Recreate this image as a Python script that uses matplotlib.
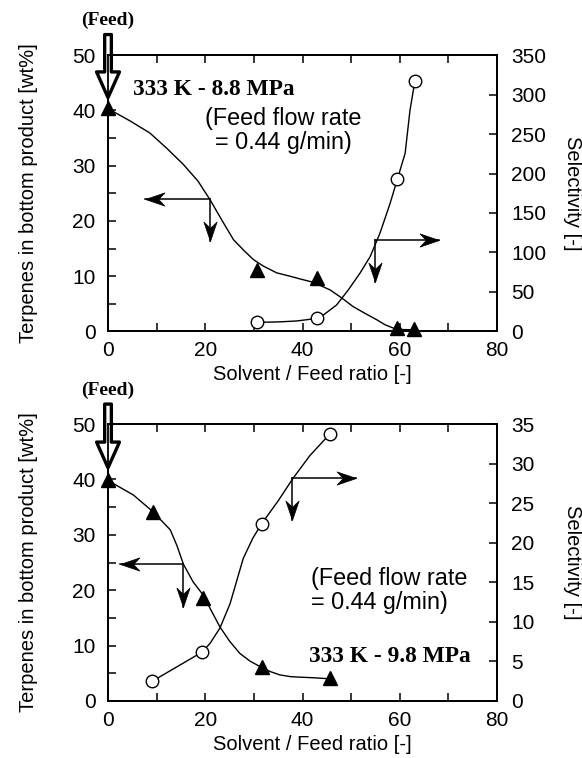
import matplotlib
matplotlib.use("Agg")
import matplotlib.pyplot as plt
from matplotlib.markers import MarkerStyle
from matplotlib.path import Path
from matplotlib.transforms import Affine2D

plt.rcParams['font.family'] = ['Liberation Sans', 'DejaVu Sans']

# ---------------- data: top panel (333 K - 8.8 MPa) ----------------
top_terp_x = [0.0, 30.6, 42.9, 59.4, 63.0]
top_terp_y = [40.5, 11.1, 9.7, 0.6, 0.4]
top_sel_x = [30.6, 42.9, 59.5, 63.1]
top_sel_y = [12.4, 16.7, 192.7, 317.0]
top_terp_curve_x = [0.4, 4.5, 8.6, 12.0, 15.5, 18.5, 21.0, 23.5, 25.8, 28.0, 29.9, 32.0,
                    34.7, 37.4, 39.5, 42.2, 45.7, 48.0, 50.4, 53.0, 55.3, 57.0, 58.7, 60.5, 62.8]
top_terp_curve_y = [40.1, 38.1, 35.9, 33.2, 30.2, 27.2, 23.8, 20.0, 16.6, 14.6, 13.0, 11.8,
                    10.6, 10.0, 9.5, 8.9, 7.5, 6.1, 4.5, 3.2, 2.1, 1.2, 0.6, 0.35, 0.3]
top_sel_curve_x = [30.6, 33.0, 35.4, 38.8, 41.0, 42.9, 44.3, 47.0, 49.4, 51.8, 53.9, 55.9,
                   58.0, 59.5, 61.1, 62.1, 63.1]
top_sel_curve_y = [12.0, 11.8, 12.2, 13.3, 15.0, 16.7, 20.9, 33.5, 52.5, 73.7, 94.7, 124.0,
                   162.0, 192.7, 225.6, 280.0, 317.0]

# ---------------- data: bottom panel (333 K - 9.8 MPa) ----------------
bot_terp_x = [0.0, 9.2, 19.5, 31.6, 45.7]
bot_terp_y = [39.9, 34.2, 18.6, 6.2, 4.1]
bot_sel_x = [9.1, 19.4, 31.6, 45.7]
bot_sel_y = [2.5, 6.2, 22.4, 33.8]
bot_terp_curve_x = [0.4, 5.2, 9.2, 12.8, 14.2, 15.5, 17.5, 19.6, 21.3, 23.0, 25.0, 27.1,
                    29.2, 31.3, 33.4, 35.4, 37.5, 39.5, 42.2, 45.7]
bot_terp_curve_y = [39.6, 37.2, 34.2, 30.9, 28.0, 24.7, 21.5, 19.1, 16.2, 13.4, 10.8, 8.6,
                    7.2, 6.2, 5.3, 4.7, 4.4, 4.3, 4.2, 4.0]
bot_sel_curve_x = [9.1, 19.4, 21.0, 23.0, 25.1, 27.8, 29.8, 31.6, 35.0, 38.0, 41.5, 45.7]
bot_sel_curve_y = [2.5, 6.2, 7.3, 9.2, 12.3, 18.0, 20.6, 22.4, 25.3, 28.1, 31.0, 33.8]

x_ticks = [0, 20, 40, 60, 80]
left_ticks = [0, 10, 20, 30, 40, 50]
top_right_ticks = [0, 50, 100, 150, 200, 250, 300, 350]
bot_right_ticks = [0, 5, 10, 15, 20, 25, 30, 35]

TICK_FS = 15
LABEL_FS = 14.5
ANNOT_FS = 16.8

fig = plt.figure(figsize=(5.82, 7.58), dpi=100)

# stealth-style arrow head marker (tip at origin, pointing +x)
head_path = Path([(0, 0), (-1, 0.34), (-0.68, 0), (-1, -0.34), (0, 0)],
                 [Path.MOVETO, Path.LINETO, Path.LINETO, Path.LINETO, Path.CLOSEPOLY])


def head_marker(angle):
    return MarkerStyle(head_path, transform=Affine2D().rotate_deg(angle))


def elbow_arrows(ax, corner, horiz_end, vert_end):
    cx, cy = corner
    ax.plot([cx, horiz_end], [cy, cy], color='black', lw=1.1, zorder=4)
    ax.plot([cx, cx], [cy, vert_end], color='black', lw=1.1, zorder=4)
    ang = 0 if horiz_end > cx else 180
    ax.plot([horiz_end], [cy], marker=head_marker(ang), ms=28, color='black',
            mec='black', mew=0.5, zorder=4, clip_on=False)
    ax.plot([cx], [vert_end], marker=head_marker(-90), ms=28, color='black',
            mec='black', mew=0.5, zorder=4, clip_on=False)


def feed_arrow(ax, y_top, y_tip):
    ax.annotate('', xy=(0, y_tip), xytext=(0, y_top), annotation_clip=False,
                arrowprops=dict(arrowstyle='simple,head_length=1.85,head_width=1.65,tail_width=0.48',
                                fc='white', ec='black', lw=2.4, mutation_scale=10,
                                shrinkA=0, shrinkB=0), zorder=6)


def setup(ax, ax2, right_ticks, right_max):
    ax.set_xlim(0, 80)
    ax.set_ylim(0, 50)
    ax2.set_ylim(0, right_max)
    ax.set_xticks(x_ticks)
    ax.set_xticks([10, 30, 50, 70], minor=True)
    ax.set_yticks(left_ticks)
    ax.set_yticks([5, 15, 25, 35, 45], minor=True)
    ax2.set_yticks(right_ticks)
    ax.tick_params(axis='x', which='both', direction='in', top=True, bottom=True,
                   length=6, width=1.1, labelsize=TICK_FS, pad=7)
    ax.tick_params(axis='y', which='both', direction='in', left=True, right=False,
                   length=6, width=1.1, labelsize=TICK_FS, pad=9)
    ax2.tick_params(axis='y', which='both', direction='in', right=True, left=False,
                    length=6, width=1.1, labelsize=TICK_FS, pad=10)
    for a in (ax, ax2):
        for s in a.spines.values():
            s.set_linewidth(1.3)
    ax.set_xlabel('Solvent / Feed ratio [-]', fontsize=LABEL_FS)
    ax.xaxis.label.set_va('center')
    ax.xaxis.set_label_coords(0.524, -0.157)
    ax.set_ylabel('Terpenes in bottom product [wt%]', fontsize=LABEL_FS)
    ax.yaxis.label.set_va('center')
    ax.yaxis.set_label_coords(-0.205, 0.5)
    ax2.set_ylabel('Selectivity [-]', fontsize=LABEL_FS, rotation=-90)
    ax2.yaxis.label.set_va('center')
    ax2.yaxis.set_label_coords(1.193, 0.5)


# ---------------- top panel ----------------
ax1 = fig.add_axes([0.1856, 0.5627, 0.6684, 0.3647])
ax1b = ax1.twinx()
setup(ax1, ax1b, top_right_ticks, 350)
ax1.plot(top_terp_curve_x, top_terp_curve_y, color='black', lw=1.0, zorder=3)
ax1.plot(top_terp_x, top_terp_y, linestyle='none', marker='^', ms=10, color='black',
         zorder=5, clip_on=False)
ax1b.plot(top_sel_curve_x, top_sel_curve_y, color='black', lw=1.0, zorder=3)
ax1b.plot(top_sel_x, top_sel_y, linestyle='none', marker='o', ms=9, mfc='white',
          mec='black', mew=1.0, zorder=5, clip_on=False)
elbow_arrows(ax1, (21.0, 24.0), 7.6, 16.3)
elbow_arrows(ax1, (54.9, 16.6), 68.1, 9.0)
feed_arrow(ax1, 53.7, 42.3)
ax1.text(0, 56.3, '(Feed)', ha='center', va='center', fontsize=14,
         family='Liberation Serif', weight='bold', clip_on=False)
ax1.text(5.1, 43.75, '333 K - 8.8 MPa', ha='left', va='center', fontsize=ANNOT_FS,
         family='Liberation Serif', weight='bold')
ax1.text(36.0, 36.4, '(Feed flow rate\n= 0.44 g/min)', ha='center', va='center',
         multialignment='center', linespacing=1.05, fontsize=ANNOT_FS)

# ---------------- bottom panel ----------------
ax2 = fig.add_axes([0.1856, 0.0752, 0.6684, 0.3654])
ax2b = ax2.twinx()
setup(ax2, ax2b, bot_right_ticks, 35)
ax2.plot(bot_terp_curve_x, bot_terp_curve_y, color='black', lw=1.0, zorder=3)
ax2.plot(bot_terp_x, bot_terp_y, linestyle='none', marker='^', ms=10, color='black',
         zorder=5, clip_on=False)
ax2b.plot(bot_sel_curve_x, bot_sel_curve_y, color='black', lw=1.0, zorder=3)
ax2b.plot(bot_sel_x, bot_sel_y, linestyle='none', marker='o', ms=9, mfc='white',
          mec='black', mew=1.0, zorder=5, clip_on=False)
elbow_arrows(ax2, (15.5, 24.7), 2.5, 17.0)
elbow_arrows(ax2, (37.9, 40.2), 51.0, 32.7)
feed_arrow(ax2, 53.6, 42.1)
ax2.text(0, 56.0, '(Feed)', ha='center', va='center', fontsize=14,
         family='Liberation Serif', weight='bold', clip_on=False)
ax2.text(41.3, 8.0, '333 K - 9.8 MPa', ha='left', va='center', fontsize=ANNOT_FS,
         family='Liberation Serif', weight='bold')
ax2.text(41.7, 19.9, '(Feed flow rate\n= 0.44 g/min)', ha='left', va='center',
         multialignment='left', linespacing=1.05, fontsize=ANNOT_FS)

fig.savefig('out.png', dpi=100)
